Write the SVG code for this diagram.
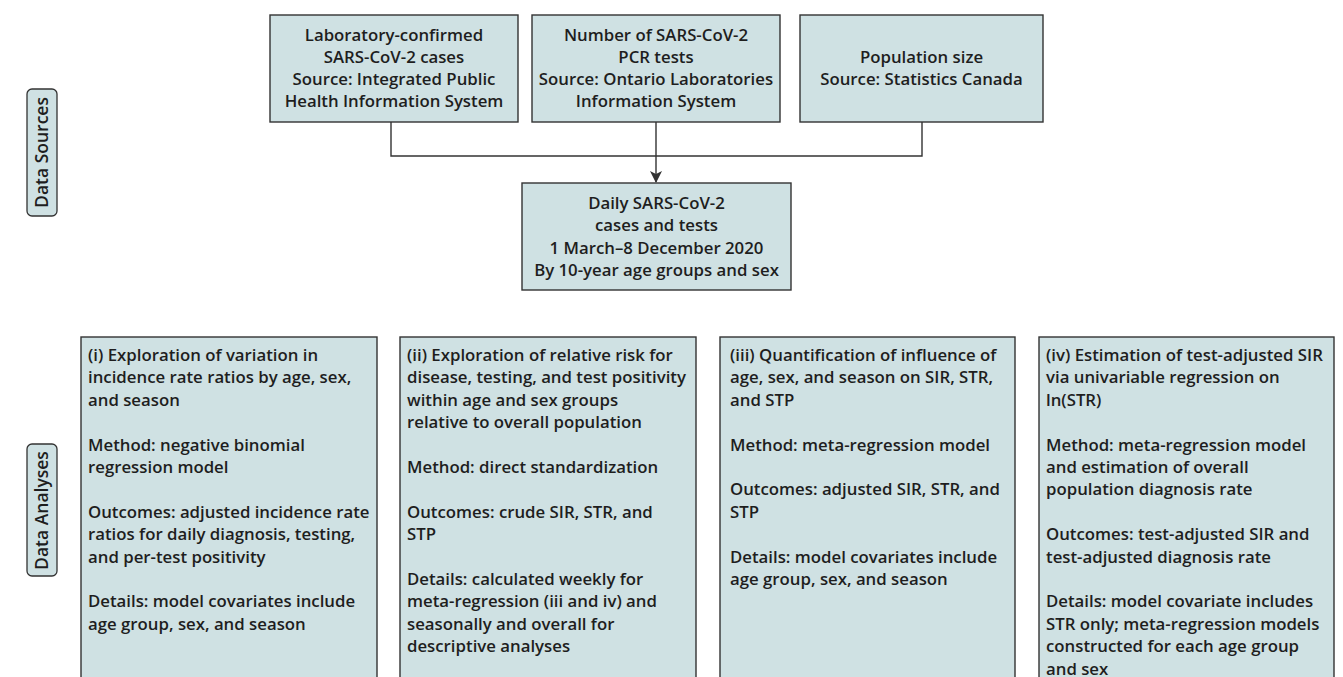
<svg xmlns="http://www.w3.org/2000/svg" width="1343" height="677" viewBox="0 0 1343 677">
<style>
.box{fill:#cfe1e3;stroke:#333;stroke-width:1.4}
.pill{fill:#cfe1e3;stroke:#333;stroke-width:1.3}
.t{font-family:"Open Sans","Liberation Sans",sans-serif;font-weight:600;font-size:16.8px;fill:#1e1e1e}
.c{text-anchor:middle}
.conn{fill:none;stroke:#333;stroke-width:1.4}
</style>
<defs>
<marker id="arr" viewBox="0 0 12 12" refX="11" refY="6" markerWidth="12" markerHeight="12" markerUnits="userSpaceOnUse" orient="auto">
<path d="M0,0 L12,6 L0,12 L3,6 Z" fill="#333"/>
</marker>
</defs>
<rect width="1343" height="677" fill="#fff"/>
<g id="label-sources">
<rect class="pill" x="27" y="89" width="30" height="127" rx="5"/>
<text class="t c" transform="translate(48,152.5) rotate(-90)" style="font-size:17.5px">Data Sources</text>
</g>
<g id="label-analyses">
<rect class="pill" x="27" y="444" width="30" height="132" rx="5"/>
<text class="t c" transform="translate(47.5,510.5) rotate(-90)" style="font-size:17.5px">Data Analyses</text>
</g>
<g id="connectors">
<path class="conn" d="M391,122 V156 H922 V122"/>
<path class="conn" d="M656,122 V182" marker-end="url(#arr)"/>
</g>
<g id="src1">
<rect class="box" x="270" y="15" width="248" height="107"/>
<text class="t c" x="394" y="41">Laboratory-confirmed</text>
<text class="t c" x="394" y="63">SARS-CoV-2 cases</text>
<text class="t c" x="394" y="85">Source: Integrated Public</text>
<text class="t c" x="394" y="107">Health Information System</text>
</g>
<g id="src2">
<rect class="box" x="532" y="15" width="248" height="107"/>
<text class="t c" x="656" y="41">Number of SARS-CoV-2</text>
<text class="t c" x="656" y="63">PCR tests</text>
<text class="t c" x="656" y="85">Source: Ontario Laboratories</text>
<text class="t c" x="656" y="107">Information System</text>
</g>
<g id="src3">
<rect class="box" x="800" y="15" width="243" height="107"/>
<text class="t c" x="921.5" y="63">Population size</text>
<text class="t c" x="921.5" y="85">Source: Statistics Canada</text>
</g>
<g id="daily">
<rect class="box" x="522" y="183" width="269" height="107"/>
<text class="t c" x="656.5" y="209">Daily SARS-CoV-2</text>
<text class="t c" x="656.5" y="231">cases and tests</text>
<text class="t c" x="656.5" y="254">1 March–8 December 2020</text>
<text class="t c" x="656.5" y="276">By 10-year age groups and sex</text>
</g>
<g id="an1">
<rect class="box" x="81" y="337" width="296" height="360"/>
<text class="t" x="88" y="361">(i) Exploration of variation in</text>
<text class="t" x="88" y="383.4">incidence rate ratios by age, sex,</text>
<text class="t" x="88" y="405.8">and season</text>
<text class="t" x="88" y="450.6">Method: negative binomial</text>
<text class="t" x="88" y="473">regression model</text>
<text class="t" x="88" y="517.8">Outcomes: adjusted incidence rate</text>
<text class="t" x="88" y="540.2">ratios for daily diagnosis, testing,</text>
<text class="t" x="88" y="562.6">and per-test positivity</text>
<text class="t" x="88" y="607.4">Details: model covariates include</text>
<text class="t" x="88" y="629.8">age group, sex, and season</text>
</g>
<g id="an2">
<rect class="box" x="400" y="337" width="296" height="360"/>
<text class="t" x="407" y="361">(ii) Exploration of relative risk for</text>
<text class="t" x="407" y="383.4">disease, testing, and test positivity</text>
<text class="t" x="407" y="405.8">within age and sex groups</text>
<text class="t" x="407" y="428.2">relative to overall population</text>
<text class="t" x="407" y="473">Method: direct standardization</text>
<text class="t" x="407" y="517.8">Outcomes: crude SIR, STR, and</text>
<text class="t" x="407" y="540.2">STP</text>
<text class="t" x="407" y="585">Details: calculated weekly for</text>
<text class="t" x="407" y="607.4">meta-regression (iii and iv) and</text>
<text class="t" x="407" y="629.8">seasonally and overall for</text>
<text class="t" x="407" y="652.2">descriptive analyses</text>
</g>
<g id="an3">
<rect class="box" x="720" y="337" width="295" height="360"/>
<text class="t" x="730" y="361">(iii) Quantification of influence of</text>
<text class="t" x="730" y="383.4">age, sex, and season on SIR, STR,</text>
<text class="t" x="730" y="405.8">and STP</text>
<text class="t" x="730" y="450.6">Method: meta-regression model</text>
<text class="t" x="730" y="495.4">Outcomes: adjusted SIR, STR, and</text>
<text class="t" x="730" y="517.8">STP</text>
<text class="t" x="730" y="562.6">Details: model covariates include</text>
<text class="t" x="730" y="585">age group, sex, and season</text>
</g>
<g id="an4">
<rect class="box" x="1039" y="337" width="295" height="360"/>
<text class="t" x="1046" y="361">(iv) Estimation of test-adjusted SIR</text>
<text class="t" x="1046" y="383.4">via univariable regression on</text>
<text class="t" x="1046" y="405.8">ln(STR)</text>
<text class="t" x="1046" y="450.6">Method: meta-regression model</text>
<text class="t" x="1046" y="473">and estimation of overall</text>
<text class="t" x="1046" y="495.4">population diagnosis rate</text>
<text class="t" x="1046" y="540.2">Outcomes: test-adjusted SIR and</text>
<text class="t" x="1046" y="562.6">test-adjusted diagnosis rate</text>
<text class="t" x="1046" y="607.4">Details: model covariate includes</text>
<text class="t" x="1046" y="629.8">STR only; meta-regression models</text>
<text class="t" x="1046" y="652.2">constructed for each age group</text>
<text class="t" x="1046" y="674.6">and sex</text>
</g>
</svg>
